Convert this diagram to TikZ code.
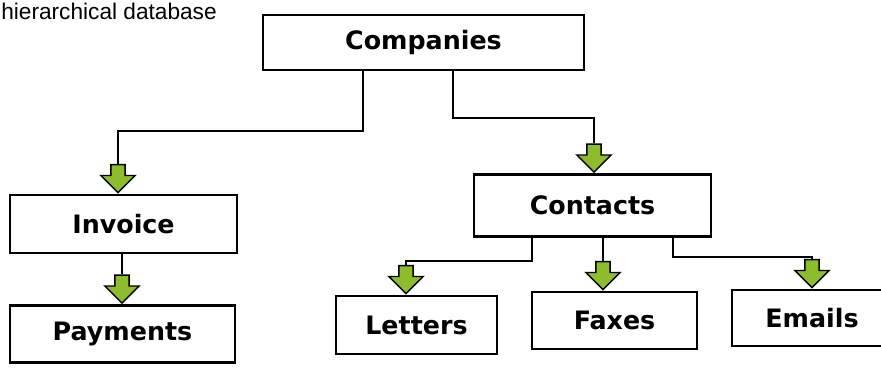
\documentclass[tikz,border=0pt]{standalone}
\usepackage{fontspec}
\setmainfont{DejaVu Sans}
\newfontfamily\capfont{Liberation Sans}
\usepackage{xcolor}
\usepackage{tikz}
\usetikzlibrary{shapes.arrows}
\definecolor{arrowgreen}{RGB}{139,189,44}

\begin{document}
\begin{tikzpicture}[x=0.75pt,y=-0.75pt,
    entity/.style={draw,line width=2pt,fill=white,inner sep=0pt,font=\fontsize{19}{21}\selectfont\bfseries},
    link/.style={line width=1.9pt},
    greenarrow/.style={single arrow,shape border rotate=270,draw=black,line width=1.1pt,fill=arrowgreen,
        inner sep=4.8pt,single arrow head extend=7.5pt,minimum height=21pt,anchor=tip}]
    \useasboundingbox (0,0) rectangle (881,368);

    \node[anchor=base west,inner sep=0pt,font=\capfont\fontsize{17}{19}\selectfont] (caption) at (1,19) {hierarchical database};

    % record types
    \node[entity,minimum width=240.75pt,minimum height=41.25pt] (companies) at (423.5,42.5) {Companies};
    \node[entity,minimum width=170.25pt,minimum height=43.5pt] (invoice) at (123.5,224) {Invoice};
    \node[entity,minimum width=168.75pt,minimum height=42.75pt] (payments) at (122.5,334) {Payments};
    \node[entity,minimum width=177.75pt,minimum height=46.5pt] (contacts) at (592.5,205.5) {Contacts};
    \node[entity,minimum width=120.75pt,minimum height=43.5pt] (letters) at (416.5,325) {Letters};
    \node[entity,minimum width=123.75pt,minimum height=42.75pt] (faxes) at (614.5,320.5) {Faxes};
    \node[entity,minimum width=120pt,minimum height=42pt] (emails) at (812,318) {Emails};

    % green arrows into the children
    \node[greenarrow] (arInvoice) at (118,0 |- invoice.north) {};
    \node[greenarrow] (arPayments) at (122,0 |- payments.north) {};
    \node[greenarrow] (arContacts) at (594,0 |- contacts.north) {};
    \node[greenarrow] (arLetters) at (406,0 |- letters.north) {};
    \node[greenarrow] (arFaxes) at (603,0 |- faxes.north) {};
    \node[greenarrow] (arEmails) at (812,0 |- emails.north) {};

    \draw[link] (363,0 |- companies.south) -- (363,131) -| (arInvoice.tail);
    \draw[link] (453,0 |- companies.south) -- (453,118) -| (arContacts.tail);
    \draw[link] (arPayments.tail |- invoice.south) -- (arPayments.tail);
    \draw[link] (532,0 |- contacts.south) -- (532,261) -| (arLetters.tail);
    \draw[link] (arFaxes.tail |- contacts.south) -- (arFaxes.tail);
    \draw[link] (673,0 |- contacts.south) -- (673,257) -| (arEmails.tail);
\end{tikzpicture}
\end{document}
